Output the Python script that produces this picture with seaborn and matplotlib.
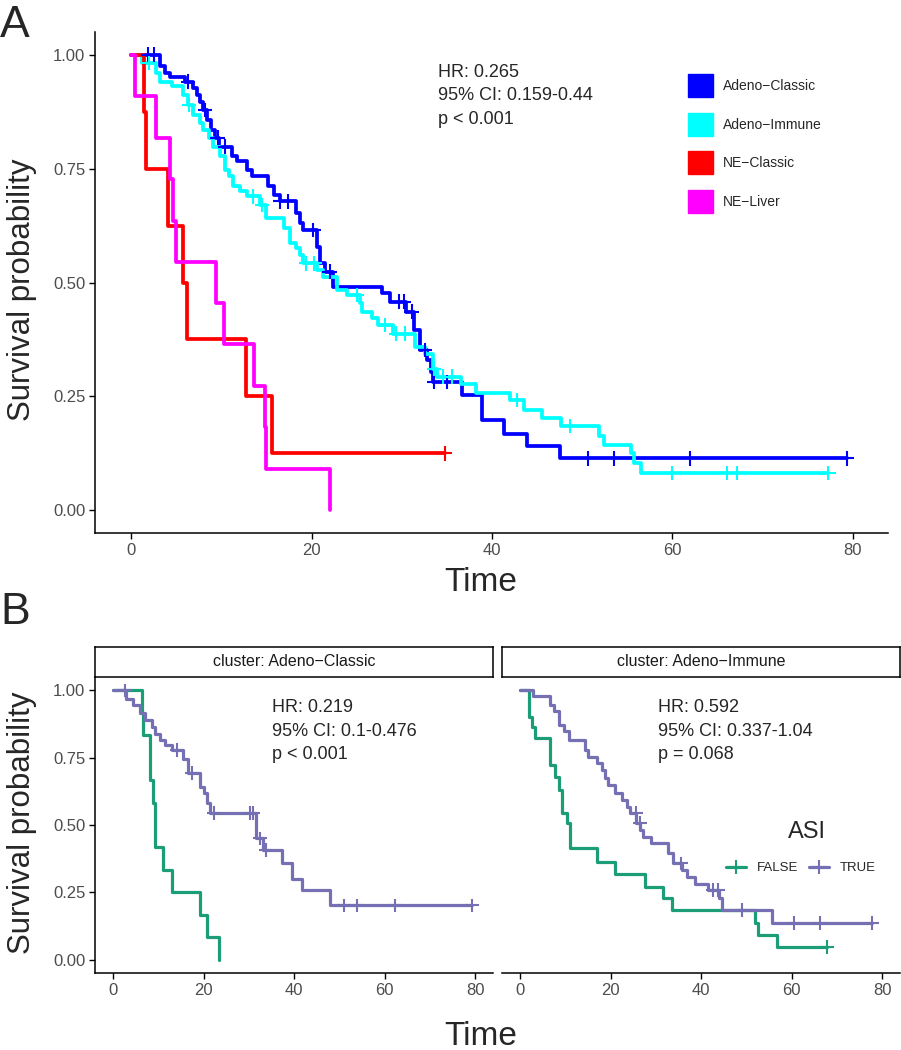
import numpy as np
import pandas as pd
import matplotlib
matplotlib.use("Agg")
import matplotlib.pyplot as plt
from matplotlib.patches import Patch
from matplotlib.lines import Line2D
import seaborn as sns

# ---------------- data ----------------
# Panel A: KM curves per cluster (event times, survival after each event, censor times)
clusters = ["Adeno\u2212Classic", "Adeno\u2212Immune", "NE\u2212Classic", "NE\u2212Liver"]
cluster_colors = ["#0000FF", "#00FFFF", "#FF0000", "#FF00FF"]

ac_t = [3.2, 3.8, 4.3, 6.0, 6.9, 7.3, 7.6, 8.0, 8.4, 8.9, 9.3, 9.7, 11.2, 11.7, 12.8, 13.4,
        15.2, 15.8, 16.5, 18.3, 18.7, 19.1, 20.6, 20.9, 21.5, 22.4, 27.8, 28.7, 30.5, 31.4,
        32.0, 32.8, 33.2, 33.5, 36.7, 38.9, 41.3, 43.9, 47.5]
ac_s = [0.976, 0.960, 0.952, 0.941, 0.927, 0.912, 0.897, 0.879, 0.857, 0.835, 0.818, 0.798,
        0.777, 0.766, 0.747, 0.733, 0.711, 0.692, 0.678, 0.652, 0.631, 0.615, 0.579, 0.543,
        0.524, 0.491, 0.476, 0.458, 0.436, 0.396, 0.352, 0.330, 0.304, 0.282, 0.254, 0.198,
        0.168, 0.141, 0.114]
ac_c = [1.9, 2.5, 6.3, 8.2, 9.6, 10.4, 16.5, 17.4, 20.2, 22.0, 29.7, 30.2, 31.1, 32.6, 33.6,
        35.0, 50.6, 53.5, 62.0, 79.3]

ai_t = [1.2, 2.8, 3.2, 4.5, 5.8, 6.3, 6.9, 7.6, 8.0, 8.6, 9.1, 9.9, 10.4, 10.8, 11.3, 12.1,
        12.8, 14.3, 15.0, 16.9, 17.6, 18.3, 18.7, 19.1, 20.6, 21.3, 22.8, 23.9, 25.4, 25.6,
        26.7, 27.4, 29.0, 31.5, 32.6, 33.5, 33.9, 36.6, 38.2, 42.0, 43.6, 45.5, 47.6, 51.9,
        52.4, 55.4, 55.8, 56.5]
ai_s = [0.982, 0.960, 0.941, 0.932, 0.912, 0.890, 0.868, 0.850, 0.835, 0.817, 0.798, 0.777,
        0.747, 0.733, 0.711, 0.700, 0.689, 0.670, 0.641, 0.619, 0.586, 0.575, 0.560, 0.542,
        0.527, 0.513, 0.484, 0.473, 0.454, 0.436, 0.421, 0.407, 0.388, 0.359, 0.344, 0.311,
        0.293, 0.278, 0.258, 0.242, 0.221, 0.203, 0.185, 0.163, 0.144, 0.125, 0.103, 0.082]
ai_c = [2.0, 6.4, 13.5, 14.5, 19.4, 20.3, 25.0, 28.2, 29.4, 30.4, 33.6, 34.6, 35.6, 42.8,
        48.6, 60.0, 66.0, 67.2, 77.3]

nc_t = [1.4, 1.7, 4.1, 5.8, 6.2, 12.7, 15.6]
nc_s = [0.875, 0.750, 0.625, 0.500, 0.375, 0.250, 0.125]
nc_c = [34.8]

nl_t = [0.45, 2.8, 4.3, 4.7, 5.0, 9.4, 10.3, 13.6, 14.8, 15.0, 22.1]
nl_s = [0.909, 0.818, 0.727, 0.636, 0.545, 0.455, 0.364, 0.273, 0.182, 0.091, 0.0]
nl_c = []

# Panel B: ASI FALSE / TRUE within two clusters
asi_levels = ["FALSE", "TRUE"]
asi_colors = ["#1B9E77", "#7570B3"]

cl_false_t = [6.3, 6.7, 8.2, 8.9, 9.3, 11.1, 13.1, 19.2, 20.7, 23.3]
cl_false_s = [0.917, 0.833, 0.667, 0.583, 0.417, 0.333, 0.250, 0.167, 0.083, 0.0]
cl_false_c = []
cl_true_t = [2.9, 4.5, 6.0, 7.0, 8.5, 9.3, 10.4, 11.5, 13.0, 15.5, 16.6, 19.2, 20.0, 20.7,
             21.4, 31.6, 33.2, 37.3, 39.5, 41.7, 48.0]
cl_true_s = [0.970, 0.947, 0.916, 0.890, 0.866, 0.840, 0.816, 0.797, 0.779, 0.745, 0.693,
             0.643, 0.620, 0.580, 0.543, 0.450, 0.407, 0.357, 0.301, 0.257, 0.201]
cl_true_c = [2.7, 14.1, 17.5, 22.2, 30.3, 31.0, 32.5, 33.8, 51.0, 53.9, 62.3, 79.3]

im_false_t = [2.0, 2.6, 3.3, 6.6, 7.7, 8.5, 9.2, 10.3, 11.0, 16.9, 20.9, 27.5, 31.6, 33.5,
              51.9, 52.6, 56.7]
im_false_s = [0.900, 0.866, 0.822, 0.724, 0.680, 0.630, 0.543, 0.506, 0.413, 0.364, 0.318,
              0.270, 0.227, 0.183, 0.137, 0.090, 0.047]
im_false_c = [67.8]
im_true_t = [2.9, 6.6, 7.4, 8.5, 9.6, 10.7, 14.4, 15.1, 16.9, 18.0, 18.8, 19.5, 20.9, 22.4,
             23.5, 24.3, 25.7, 26.5, 27.2, 29.0, 32.7, 33.8, 35.7, 36.8, 38.7, 41.6, 43.9,
             44.6, 55.6]
im_true_s = [0.978, 0.947, 0.922, 0.873, 0.848, 0.817, 0.779, 0.754, 0.729, 0.705, 0.674,
             0.650, 0.618, 0.593, 0.568, 0.543, 0.506, 0.481, 0.456, 0.432, 0.395, 0.357,
             0.332, 0.307, 0.282, 0.257, 0.227, 0.184, 0.137]
im_true_c = [25.6, 26.4, 35.5, 42.6, 43.7, 49.0, 60.4, 66.3, 77.7]

stats_a = "HR: 0.265\n95% CI: 0.159-0.44\np < 0.001"
stats_b = ["HR: 0.219\n95% CI: 0.1-0.476\np < 0.001",
           "HR: 0.592\n95% CI: 0.337-1.04\np = 0.068"]
strip_labels = ["cluster: Adeno\u2212Classic", "cluster: Adeno\u2212Immune"]

# ---------------- helpers ----------------
W, H = 901, 1050
sns.set_style("ticks")
plt.rcParams["font.family"] = ["Liberation Sans", "DejaVu Sans"]


def rect(l, t, r, b):
    return [l / W, 1 - b / H, (r - l) / W, (b - t) / H]


def km_frames(groups):
    rows, cens = [], []
    for name, (t, s, c) in groups.items():
        tt = [0.0] + list(t)
        ss = [1.0] + list(s)
        end = max([tt[-1]] + list(c))
        tt.append(end)
        ss.append(ss[-1])
        rows += [(name, a, b) for a, b in zip(tt, ss)]
        for ct in c:
            k = int(np.searchsorted(t, ct, side="right"))
            cens.append((name, ct, ss[k]))
    cols = ["group", "time", "surv"]
    return pd.DataFrame(rows, columns=cols), pd.DataFrame(cens, columns=cols)


def style_axis(ax, show_y=True):
    sns.despine(ax=ax, left=not show_y)
    for sp in ["left", "bottom"]:
        ax.spines[sp].set_color("black")
        ax.spines[sp].set_linewidth(1.1)
    ax.set_xlim(-4.0, 83.9)
    ax.set_ylim(-0.05, 1.05)
    ax.set_xticks([0, 20, 40, 60, 80])
    ax.set_yticks([0, 0.25, 0.5, 0.75, 1.0])
    ax.tick_params(direction="out", length=4, width=1, color="black",
                   labelcolor="#4D4D4D", labelsize=12, pad=3)
    if show_y:
        ax.set_yticklabels(["0.00", "0.25", "0.50", "0.75", "1.00"])
    else:
        ax.tick_params(axis="y", left=False, labelleft=False)
    ax.set_xlabel("")
    ax.set_ylabel("")


def draw_km(ax, groups, order, colors, lw, ms):
    curves, cens = km_frames(groups)
    pal = dict(zip(order, colors))
    sns.lineplot(data=curves, x="time", y="surv", hue="group", hue_order=order,
                 palette=pal, estimator=None, sort=False, drawstyle="steps-post",
                 linewidth=lw, legend=False, ax=ax)
    if len(cens):
        sns.scatterplot(data=cens, x="time", y="surv", hue="group", hue_order=order,
                        palette=pal, marker="+", s=ms, linewidth=1.5, legend=False,
                        ax=ax, zorder=3)


fig = plt.figure(figsize=(W / 100, H / 100), dpi=100)

# ---------------- panel A ----------------
axA = fig.add_axes(rect(95, 32, 888, 533))
groups_a = {
    clusters[0]: (ac_t, ac_s, ac_c),
    clusters[1]: (ai_t, ai_s, ai_c),
    clusters[2]: (nc_t, nc_s, nc_c),
    clusters[3]: (nl_t, nl_s, nl_c),
}
draw_km(axA, groups_a, clusters, cluster_colors, lw=2.7, ms=110)
style_axis(axA)
fig.text(438 / W, 1 - 64 / H, stats_a, fontsize=13, va="top", ha="left", linespacing=1.5)

handles_a = [Patch(facecolor=c, edgecolor=c) for c in cluster_colors]
fig.legend(handles=handles_a, labels=clusters, loc="upper left",
           bbox_to_anchor=(688 / W, 1 - 74 / H), frameon=False, fontsize=10,
           handlelength=1.8, handleheight=2.2, handletextpad=0.7, labelspacing=1.1,
           borderpad=0, borderaxespad=0)

fig.text(22 / W, 1 - 290 / H, "Survival probability", rotation=90, fontsize=22.5,
         ha="center", va="center")
fig.text(481 / W, 1 - 591 / H, "Time", fontsize=24, ha="center", va="baseline")
fig.text(0, 1 - 37 / H, "A", fontsize=32, ha="left", va="baseline")

# ---------------- panel B ----------------
groups_b = [
    {asi_levels[0]: (cl_false_t, cl_false_s, cl_false_c),
     asi_levels[1]: (cl_true_t, cl_true_s, cl_true_c)},
    {asi_levels[0]: (im_false_t, im_false_s, im_false_c),
     asi_levels[1]: (im_true_t, im_true_s, im_true_c)},
]
panel_x = [(95, 493), (502, 900)]
for i, (l, r) in enumerate(panel_x):
    ax = fig.add_axes(rect(l, 677, r, 973))
    draw_km(ax, groups_b[i], asi_levels, asi_colors, lw=2.3, ms=100)
    style_axis(ax, show_y=(i == 0))
    sx = fig.add_axes(rect(l, 647, r, 677))
    sx.set_xticks([])
    sx.set_yticks([])
    for sp in sx.spines.values():
        sp.set_visible(True)
        sp.set_color("black")
        sp.set_linewidth(1.1)
    sx.text(0.5, 0.5, strip_labels[i], transform=sx.transAxes, ha="center",
            va="center", fontsize=11.5, color="#1A1A1A")
    hx = [272, 658][i]
    fig.text(hx / W, 1 - 699 / H, stats_b[i], fontsize=13, va="top", ha="left",
             linespacing=1.5)

# ASI legend: title drawn as text, entries as a one-row legend
fig.text(807 / W, 1 - 832 / H, "ASI", fontsize=17, ha="center", va="center")
handles_b = [Line2D([], [], color=c, lw=2.3, marker="+", markersize=10, mew=1.5)
             for c in asi_colors]
fig.legend(handles=handles_b, labels=asi_levels, ncol=2, loc="upper left",
           bbox_to_anchor=(726 / W, 1 - 862 / H), frameon=False, fontsize=9.5,
           handlelength=1.5, handletextpad=0.85, columnspacing=0.8,
           borderpad=0, borderaxespad=0)

fig.text(22 / W, 1 - 823 / H, "Survival probability", rotation=90, fontsize=22.5,
         ha="center", va="center")
fig.text(481 / W, 1 - 1045 / H, "Time", fontsize=24, ha="center", va="baseline")
fig.text(0, 1 - 624 / H, "B", fontsize=32, ha="left", va="baseline")

fig.savefig("out.png", dpi=100)
